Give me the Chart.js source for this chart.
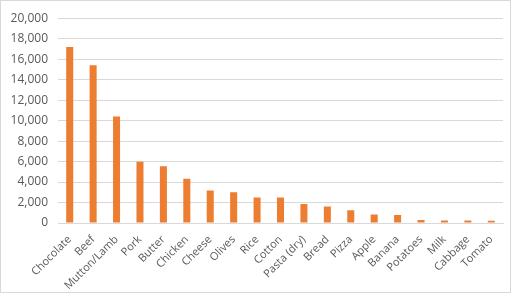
<!DOCTYPE html>
<html>
<head>
<meta charset="utf-8">
<script src="https://cdn.jsdelivr.net/npm/chart.js@4"></script>
<style>
  html, body { margin: 0; padding: 0; background: #fff; }
  .chart { position: relative; width: 509px; height: 291px; border: 1px solid #d9d9d9; }
</style>
</head>
<body>
<div class="chart"><canvas id="water"></canvas></div>
<script>
// water footprint per item
const foods = ['Chocolate', 'Beef', 'Mutton/Lamb', 'Pork', 'Butter', 'Chicken', 'Cheese', 'Olives', 'Rice',
  'Cotton', 'Pasta (dry)', 'Bread', 'Pizza', 'Apple', 'Banana', 'Potatoes', 'Milk', 'Cabbage', 'Tomato']
const litres = [17196, 15415, 10412, 5988, 5553, 4325, 3178, 3015, 2497,
  2495, 1849, 1608, 1239, 822, 790, 287, 255, 237, 214]
const yMax = 20000
const yStep = 2000

const ctx = document.getElementById('water')
const chart = new Chart(ctx, {
  type: 'bar',
  data: {
    labels: foods,
    datasets: [
      {
        label: '',
        data: litres,
        backgroundColor: '#ED7D31',
        barPercentage: 0.3,
        categoryPercentage: 1,
      },
    ],
  },
  options: {
    responsive: true,
    maintainAspectRatio: false,
    animation: false,
    layout: { padding: { left: 0, right: 7, top: 15, bottom: 0 } },
    plugins: {
      legend: { display: false },
      tooltip: { enabled: false },
    },
    scales: {
      x: {
        grid: { display: false },
        border: { color: '#d9d9d9' },
        ticks: {
          color: '#595959',
          font: { family: 'Open Sans', size: 11 },
          minRotation: 45,
          maxRotation: 45,
          padding: 2,
        },
        afterFit: (s) => { s.height = 69 },
      },
      y: {
        min: 0,
        max: yMax,
        grid: { color: '#d9d9d9', drawTicks: false },
        border: { display: false },
        ticks: {
          stepSize: yStep,
          color: '#595959',
          font: { family: 'Open Sans', size: 12 },
          padding: 10,
          callback: (v) => v.toLocaleString('en-US'),
        },
        afterFit: (s) => { s.width = 57 },
      },
    },
  },
})
</script>
</body>
</html>
